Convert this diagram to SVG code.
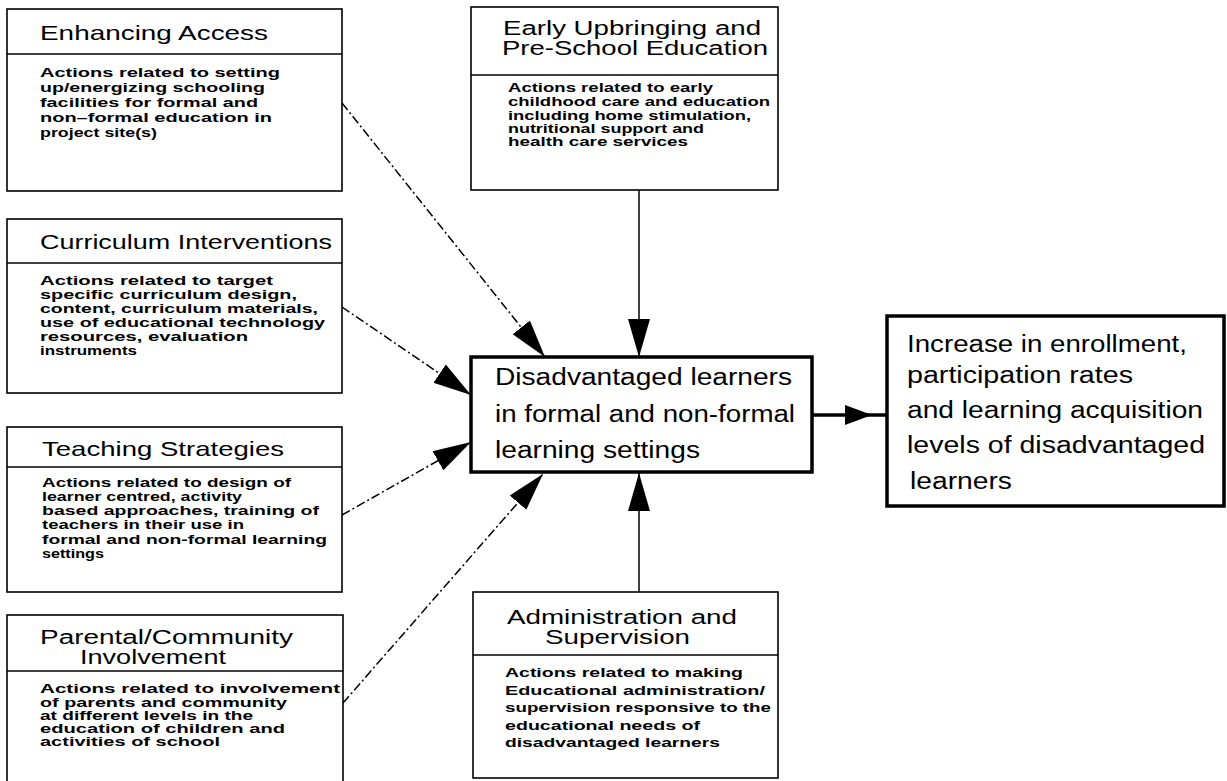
<svg xmlns="http://www.w3.org/2000/svg" width="1227" height="781" viewBox="0 0 1227 781">
<style>
.box{fill:#fff;stroke:#000;stroke-width:1.6}
.thick{fill:#fff;stroke:#000;stroke-width:3.5}
.div{stroke:#000;stroke-width:1.6}
.t{font-family:"Liberation Sans",Arial,sans-serif;font-size:21px;fill:#000}
.t2{font-family:"Liberation Sans",Arial,sans-serif;font-size:19.5px;fill:#000}
.b{font-family:"Liberation Sans",Arial,sans-serif;font-size:13.5px;font-weight:bold;fill:#000}
.bs{font-family:"Liberation Sans",Arial,sans-serif;font-size:12px;font-weight:bold;fill:#000}
.c{font-family:"Liberation Sans",Arial,sans-serif;font-size:23px;fill:#000}
.dash{fill:none;stroke:#000;stroke-width:1.5;stroke-dasharray:9 3 2 3}
.solid{fill:none;stroke:#000;stroke-width:1.5}
</style>
<defs>
<marker id="ah" markerUnits="userSpaceOnUse" markerWidth="40" markerHeight="24" refX="38" refY="12" orient="auto" viewBox="0 0 40 24">
<path d="M0,1 L38,12 L0,23 Z" fill="#000"/>
</marker>
</defs>
<rect width="1227" height="781" fill="#fff"/>

<g id="connectors">
<line class="dash" x1="342" y1="103" x2="545" y2="357" marker-end="url(#ah)"/>
<line class="dash" x1="342" y1="307" x2="471" y2="395" marker-end="url(#ah)"/>
<line class="dash" x1="342" y1="515" x2="471" y2="442" marker-end="url(#ah)"/>
<line class="dash" x1="343" y1="703" x2="543" y2="474" marker-end="url(#ah)"/>
<line class="solid" x1="639" y1="190" x2="639" y2="357" marker-end="url(#ah)"/>
<line class="solid" x1="639" y1="592" x2="639" y2="473" marker-end="url(#ah)"/>
<line x1="813" y1="415" x2="887" y2="415" stroke="#000" stroke-width="3.5"/>
<path d="M845,405 L872,415 L845,425 Z" fill="#000"/>
</g>

<g id="enhancing-access">
<rect class="box" x="7" y="9" width="335" height="182"/>
<line class="div" x1="7" y1="54" x2="342" y2="54"/>
<text class="t" x="40" y="40" textLength="228" lengthAdjust="spacingAndGlyphs">Enhancing Access</text>
<text class="b" x="40" y="77" textLength="240" lengthAdjust="spacingAndGlyphs">Actions related to setting</text>
<text class="b" x="40" y="92" textLength="225" lengthAdjust="spacingAndGlyphs">up/energizing schooling</text>
<text class="b" x="40" y="107" textLength="218" lengthAdjust="spacingAndGlyphs">facilities for formal and</text>
<text class="b" x="40" y="122" textLength="232" lengthAdjust="spacingAndGlyphs">non–formal education in</text>
<text class="b" x="40" y="137" textLength="117" lengthAdjust="spacingAndGlyphs">project site(s)</text>
</g>

<g id="early-upbringing">
<rect class="box" x="471" y="7" width="307" height="183"/>
<line class="div" x1="471" y1="75" x2="778" y2="75"/>
<text class="t2" x="503" y="35" textLength="258" lengthAdjust="spacingAndGlyphs">Early Upbringing and</text>
<text class="t2" x="502" y="55" textLength="266" lengthAdjust="spacingAndGlyphs">Pre-School Education</text>
<text class="bs" x="508" y="92" textLength="205" lengthAdjust="spacingAndGlyphs">Actions related to early</text>
<text class="bs" x="508" y="106" textLength="262" lengthAdjust="spacingAndGlyphs">childhood care and education</text>
<text class="bs" x="508" y="120" textLength="243" lengthAdjust="spacingAndGlyphs">including home stimulation,</text>
<text class="bs" x="508" y="133" textLength="196" lengthAdjust="spacingAndGlyphs">nutritional support and</text>
<text class="bs" x="508" y="146" textLength="180" lengthAdjust="spacingAndGlyphs">health care services</text>
</g>

<g id="curriculum-interventions">
<rect class="box" x="7" y="219" width="335" height="174"/>
<line class="div" x1="7" y1="263" x2="342" y2="263"/>
<text class="t" x="40" y="249" textLength="292" lengthAdjust="spacingAndGlyphs">Curriculum Interventions</text>
<text class="b" x="40" y="285" textLength="233" lengthAdjust="spacingAndGlyphs">Actions  related  to target</text>
<text class="b" x="40" y="299" textLength="257" lengthAdjust="spacingAndGlyphs">specific curriculum design,</text>
<text class="b" x="40" y="313" textLength="278" lengthAdjust="spacingAndGlyphs">content, curriculum materials,</text>
<text class="b" x="40" y="327" textLength="285" lengthAdjust="spacingAndGlyphs">use of educational technology</text>
<text class="b" x="40" y="341" textLength="208" lengthAdjust="spacingAndGlyphs">resources,  evaluation</text>
<text class="b" x="40" y="355" textLength="97" lengthAdjust="spacingAndGlyphs">instruments</text>
</g>

<g id="teaching-strategies">
<rect class="box" x="7" y="427" width="335" height="165"/>
<line class="div" x1="7" y1="467" x2="342" y2="467"/>
<text class="t" x="42" y="456" textLength="242" lengthAdjust="spacingAndGlyphs">Teaching Strategies</text>
<text class="b" x="42" y="487" textLength="249" lengthAdjust="spacingAndGlyphs">Actions related to design of</text>
<text class="b" x="42" y="501" textLength="200" lengthAdjust="spacingAndGlyphs">learner centred,  activity</text>
<text class="b" x="42" y="515" textLength="277" lengthAdjust="spacingAndGlyphs">based approaches, training of</text>
<text class="b" x="42" y="529" textLength="202" lengthAdjust="spacingAndGlyphs">teachers in their use in</text>
<text class="b" x="42" y="544" textLength="285" lengthAdjust="spacingAndGlyphs">formal and non-formal learning</text>
<text class="b" x="42" y="558" textLength="62" lengthAdjust="spacingAndGlyphs">settings</text>
</g>

<g id="parental-community">
<rect class="box" x="7" y="615" width="336" height="200"/>
<line class="div" x1="7" y1="671" x2="343" y2="671"/>
<text class="t2" x="40" y="644" textLength="253" lengthAdjust="spacingAndGlyphs">Parental/Community</text>
<text class="t2" x="80" y="664" textLength="146" lengthAdjust="spacingAndGlyphs">Involvement</text>
<text class="b" x="40" y="693" textLength="300" lengthAdjust="spacingAndGlyphs">Actions related to involvement</text>
<text class="b" x="40" y="707" textLength="247" lengthAdjust="spacingAndGlyphs">of parents and community</text>
<text class="b" x="40" y="720" textLength="213" lengthAdjust="spacingAndGlyphs">at different levels in the</text>
<text class="b" x="40" y="733" textLength="245" lengthAdjust="spacingAndGlyphs">education of children  and</text>
<text class="b" x="40" y="746" textLength="180" lengthAdjust="spacingAndGlyphs">activities of school</text>
</g>

<g id="disadvantaged-learners">
<rect class="thick" x="471" y="357" width="341" height="115"/>
<text class="c" x="495" y="385" textLength="297" lengthAdjust="spacingAndGlyphs">Disadvantaged learners</text>
<text class="c" x="495" y="422" textLength="300" lengthAdjust="spacingAndGlyphs">in formal and non-formal</text>
<text class="c" x="495" y="458" textLength="205" lengthAdjust="spacingAndGlyphs">learning settings</text>
</g>

<g id="administration-supervision">
<rect class="box" x="473" y="592" width="305" height="186"/>
<line class="div" x1="473" y1="655" x2="778" y2="655"/>
<text class="t2" x="507" y="624" textLength="230" lengthAdjust="spacingAndGlyphs">Administration and</text>
<text class="t2" x="545" y="644" textLength="145" lengthAdjust="spacingAndGlyphs">Supervision</text>
<text class="b" x="505" y="677" textLength="238" lengthAdjust="spacingAndGlyphs">Actions related to making</text>
<text class="b" x="505" y="695" textLength="260" lengthAdjust="spacingAndGlyphs">Educational  administration/</text>
<text class="b" x="505" y="712" textLength="266" lengthAdjust="spacingAndGlyphs">supervision responsive to the</text>
<text class="b" x="505" y="730" textLength="195" lengthAdjust="spacingAndGlyphs">educational needs of</text>
<text class="b" x="505" y="747" textLength="215" lengthAdjust="spacingAndGlyphs">disadvantaged learners</text>
</g>

<g id="outcome">
<rect class="thick" x="887" y="316" width="337" height="190"/>
<text class="c" x="907" y="352" textLength="280" lengthAdjust="spacingAndGlyphs">Increase in enrollment,</text>
<text class="c" x="907" y="383" textLength="226" lengthAdjust="spacingAndGlyphs">participation rates</text>
<text class="c" x="907" y="418" textLength="296" lengthAdjust="spacingAndGlyphs">and learning acquisition</text>
<text class="c" x="907" y="453" textLength="298" lengthAdjust="spacingAndGlyphs">levels of disadvantaged</text>
<text class="c" x="910" y="489" textLength="102" lengthAdjust="spacingAndGlyphs">learners</text>
</g>
</svg>
